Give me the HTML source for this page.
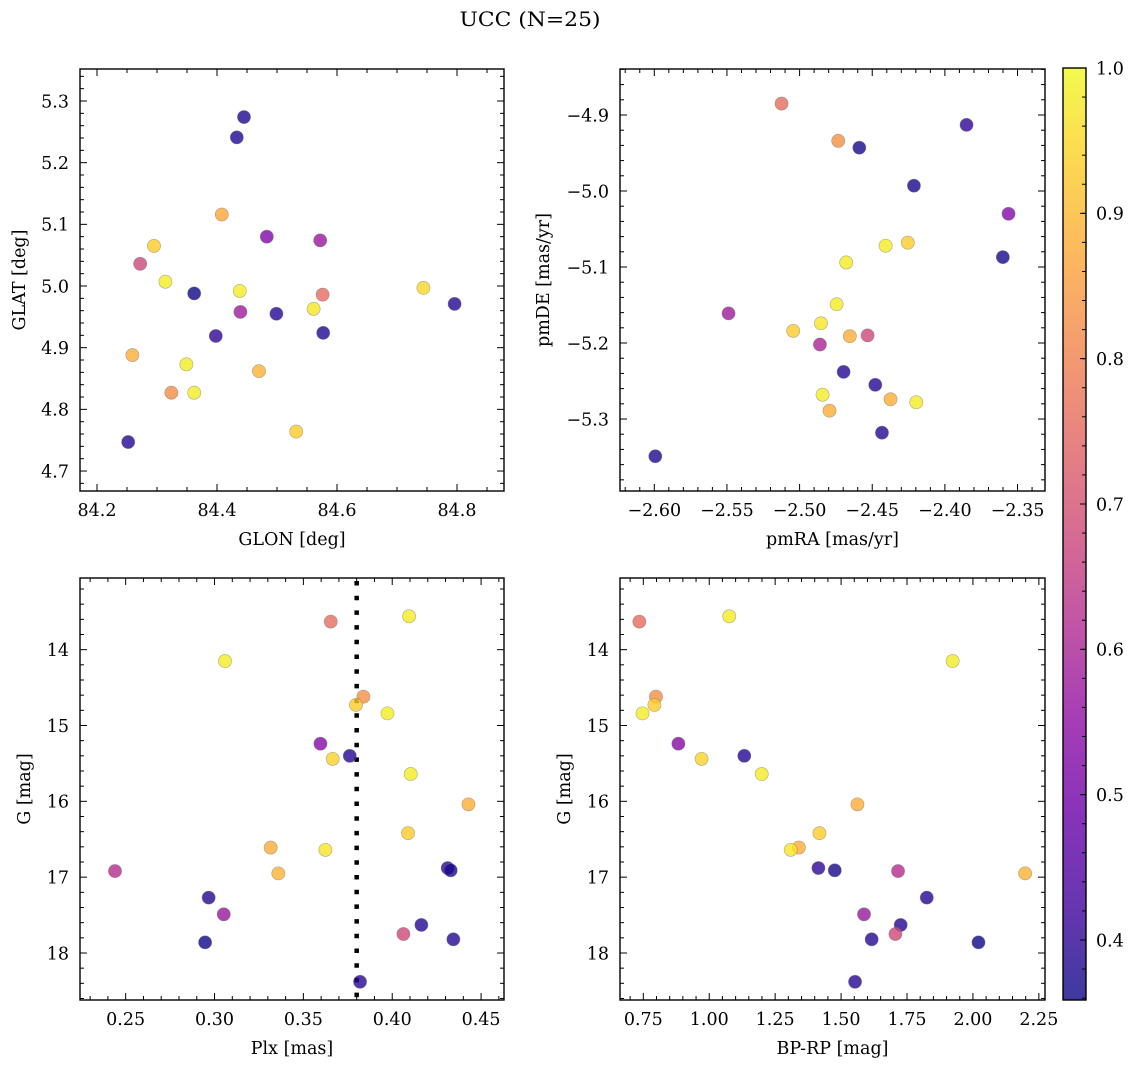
<!DOCTYPE html>
<html><head><meta charset="utf-8"><title>UCC (N=25)</title>
<style>
html,body{margin:0;padding:0;background:#fff;}
svg{display:block;font-family:"DejaVu Serif","Liberation Serif",serif;}
</style></head>
<body>
<svg id="fig" width="1136" height="1068" viewBox="0 0 1136 1068" xmlns="http://www.w3.org/2000/svg">
<defs>
<linearGradient id="plasmaGrad" x1="0" y1="1" x2="0" y2="0">
<stop offset="0" stop-color="#0d0887"/><stop offset="0.1" stop-color="#41049d"/><stop offset="0.2" stop-color="#6a00a8"/><stop offset="0.3" stop-color="#8f0da4"/><stop offset="0.4" stop-color="#b12a90"/><stop offset="0.5" stop-color="#cc4778"/><stop offset="0.6" stop-color="#e16462"/><stop offset="0.7" stop-color="#f2844b"/><stop offset="0.8" stop-color="#fca636"/><stop offset="0.9" stop-color="#fcce25"/><stop offset="1" stop-color="#f0f921"/>
</linearGradient>
</defs>
<text x="530" y="26" font-size="20" text-anchor="middle" textLength="141" lengthAdjust="spacingAndGlyphs">UCC (N=25)</text>
</svg>
<script>
// ---- data ----
const p1Lon  = [84.445,84.433,84.408,84.483,84.572,84.295,84.272,84.314,84.362,84.438,84.576,84.744,84.796,84.561,84.439,84.499,84.577,84.398,84.259,84.349,84.470,84.324,84.362,84.532,84.252];
const p1Lat  = [5.274,5.241,5.116,5.080,5.074,5.065,5.036,5.007,4.988,4.992,4.986,4.997,4.971,4.963,4.958,4.955,4.924,4.919,4.888,4.873,4.862,4.827,4.827,4.764,4.747];
const p1Prob = [0.38,0.38,0.87,0.52,0.57,0.93,0.68,0.98,0.36,0.98,0.76,0.95,0.39,0.97,0.58,0.39,0.38,0.40,0.88,0.98,0.89,0.82,0.98,0.93,0.39];

const p2PmRA = [-2.5124,-2.4734,-2.4589,-2.3851,-2.4213,-2.3562,-2.4255,-2.4408,-2.4679,-2.3601,-2.4745,-2.5489,-2.4853,-2.5044,-2.4654,-2.4532,-2.4860,-2.4697,-2.4479,-2.4842,-2.4374,-2.4197,-2.4794,-2.4433,-2.5993];
const p2PmDE = [-4.885,-4.934,-4.943,-4.913,-4.993,-5.030,-5.068,-5.072,-5.094,-5.087,-5.149,-5.161,-5.174,-5.184,-5.191,-5.190,-5.202,-5.238,-5.255,-5.268,-5.274,-5.278,-5.289,-5.318,-5.349];
const p2Prob = [0.76,0.83,0.37,0.40,0.37,0.53,0.93,0.98,0.98,0.37,0.98,0.58,0.97,0.93,0.88,0.68,0.60,0.39,0.39,0.98,0.88,0.98,0.88,0.39,0.38];

const starPlx  = [0.3654,0.4095,0.3059,0.3838,0.3796,0.3973,0.3596,0.3761,0.3665,0.4104,0.4429,0.4089,0.3316,0.3624,0.3359,0.2440,0.2967,0.4312,0.4329,0.3052,0.4164,0.4063,0.4344,0.2947,0.3819];
const starBprp = [0.735,1.076,1.923,0.798,0.792,0.747,0.883,1.133,0.971,1.199,1.562,1.418,1.340,1.309,2.198,1.716,1.825,1.414,1.476,1.587,1.726,1.706,1.616,2.021,1.553];
const starG    = [13.63,13.56,14.15,14.62,14.73,14.84,15.24,15.40,15.44,15.64,16.04,16.42,16.61,16.64,16.95,16.92,17.27,16.88,16.91,17.49,17.63,17.75,17.82,17.86,18.38];
const starProb = [0.76,0.98,0.98,0.83,0.93,0.98,0.53,0.39,0.94,0.98,0.88,0.93,0.88,0.97,0.89,0.62,0.39,0.40,0.37,0.57,0.39,0.68,0.39,0.36,0.39];

const plxMedian = 0.380;

const p1XTicks = [84.2,84.4,84.6,84.8];
const p1YTicks = [4.7,4.8,4.9,5.0,5.1,5.2,5.3];
const p2XTicks = [-2.60,-2.55,-2.50,-2.45,-2.40,-2.35];
const p2YTicks = [-5.3,-5.2,-5.1,-5.0,-4.9];
const p3XTicks = [0.25,0.30,0.35,0.40,0.45];
const p4XTicks = [0.75,1.00,1.25,1.50,1.75,2.00,2.25];
const gTicks   = [14,15,16,17,18];
const cbTicks  = [0.4,0.5,0.6,0.7,0.8,0.9,1.0];

const cMin = 0.3587, cMax = 1.0;

// ---- helpers ----
const NS = "http://www.w3.org/2000/svg";
const svg = document.getElementById('fig');
function mk(tag, attrs, parent){ const e=document.createElementNS(NS,tag); for(const k in attrs) e.setAttribute(k,attrs[k]); (parent||svg).appendChild(e); return e; }
const stops = [[13,8,135],[65,4,157],[106,0,168],[143,13,164],[177,42,144],[204,71,120],[225,100,98],[242,132,75],[252,166,54],[252,206,37],[240,249,33]];
function plasma(v){
  let t=(v-cMin)/(cMax-cMin); t=Math.max(0,Math.min(1,t));
  const f=t*10, i=Math.min(9,Math.floor(f)), r=f-i;
  const a=stops[i], b=stops[i+1];
  return 'rgb('+a.map((c,k)=>Math.round(c+(b[k]-c)*r)).join(',')+')';
}
function fmt(v,d){ const s=Math.abs(v).toFixed(d); return (v<0?'\u2212':'')+s; }

function panel(cfg){
  const {name,L,T,W,H,xmin,xmax,ymin,ymax,invY} = cfg;
  const sx = v => L + (v-xmin)/(xmax-xmin)*W;
  const sy = v => invY ? T + (v-ymin)/(ymax-ymin)*H : T + H - (v-ymin)/(ymax-ymin)*H;
  const g = mk('g',{});
  
  
  // ticks
  const tg = mk('g',{stroke:'#000','stroke-width':1},g);
  
  
  const lo=Math.min(xmin,xmax);
  for(let v=Math.ceil(xmin/cfg.xMinor-1e-6)*cfg.xMinor; v<=xmax+1e-9; v+=cfg.xMinor){
    const x=sx(v); const major=cfg.xTicks.some(t=>Math.abs(t-v)<cfg.xMinor/10); const len=major?7:4;
    mk('line',{x1:x,x2:x,y1:T+H,y2:T+H-len},tg); mk('line',{x1:x,x2:x,y1:T,y2:T+len},tg);
  }
  const y0=Math.min(ymin,ymax), y1=Math.max(ymin,ymax);
  for(let v=Math.ceil(y0/cfg.yMinor-1e-6)*cfg.yMinor; v<=y1+1e-9; v+=cfg.yMinor){
    const y=sy(v); const major=cfg.yTicks.some(t=>Math.abs(t-v)<cfg.yMinor/10); const len=major?7:4;
    mk('line',{x1:L,x2:L+len,y1:y,y2:y},tg); mk('line',{x1:L+W,x2:L+W-len,y1:y,y2:y},tg);
  }
  // tick labels
  cfg.xTicks.forEach(v=>{
    const t=mk('text',{x:sx(v),y:T+H+25,'font-size':17.5,'text-anchor':'middle'},g);
    
    
    t.textContent=fmt(v,cfg.xDec);
  });
  cfg.yTicks.forEach(v=>{
    const t=mk('text',{x:L-11,y:sy(v)+6.3,'font-size':17.5,'text-anchor':'end'},g);
    
    
    t.textContent=fmt(v,cfg.yDec);
  });
  const xl=mk('text',{x:L+W/2,y:T+H+54,'font-size':17.5,'text-anchor':'middle'},g);
  
  
  xl.textContent=cfg.xLabel;
  const yl=mk('text',{x:0,y:0,'font-size':17.5,'text-anchor':'middle',transform:'translate('+(cfg.yLabX+6)+','+(T+H/2)+') rotate(-90)'},g);
  
  
  yl.textContent=cfg.yLabel;
  if(cfg.vline!==undefined){
    const ln=mk('line',{x1:sx(cfg.vline),x2:sx(cfg.vline),y1:T+3,y2:T+H,stroke:'#000','stroke-width':4.5,'stroke-dasharray':'4.5 10.2'},g);
    
    
  }
  // points
  cfg.xs.forEach((xv,i)=>{
    const c=mk('circle',{cx:sx(xv),cy:sy(cfg.ys[i]),r:6.6,fill:plasma(cfg.cs[i]),'fill-opacity':0.8,stroke:'#777','stroke-opacity':0.6,'stroke-width':0.6},g);
    
    
  });
  const box=mk('rect',{x:L,y:T,width:W,height:H,fill:'none',stroke:'#000','stroke-width':1.4},g);
  
  
}

panel({name:'glon-glat-panel',L:80,T:69,W:424,H:422,xmin:84.1717,xmax:84.8783,ymin:4.6676,ymax:5.3519,invY:false,
  xTicks:p1XTicks,yTicks:p1YTicks,xMinor:0.05,yMinor:0.02,xDec:1,yDec:1,xLabel:'GLON [deg]',yLabel:'GLAT [deg]',yLabX:19,
  xs:p1Lon,ys:p1Lat,cs:p1Prob});
panel({name:'pm-panel',L:620,T:69,W:425,H:422,xmin:-2.6236,xmax:-2.3311,ymin:-5.3947,ymax:-4.8395,invY:false,
  xTicks:p2XTicks,yTicks:p2YTicks,xMinor:0.01,yMinor:0.02,xDec:2,yDec:1,xLabel:'pmRA [mas/yr]',yLabel:'pmDE [mas/yr]',yLabX:543,
  xs:p2PmRA,ys:p2PmDE,cs:p2Prob});
panel({name:'plx-g-panel',L:80,T:578,W:424,H:422,xmin:0.2243,xmax:0.4629,ymin:13.055,ymax:18.62,invY:true,
  xTicks:p3XTicks,yTicks:gTicks,xMinor:0.01,yMinor:0.2,xDec:2,yDec:0,xLabel:'Plx [mas]',yLabel:'G [mag]',yLabX:24,
  xs:starPlx,ys:starG,cs:starProb,vline:plxMedian});
panel({name:'cmd-panel',L:620,T:578,W:425,H:422,xmin:0.6616,xmax:2.2733,ymin:13.055,ymax:18.62,invY:true,
  xTicks:p4XTicks,yTicks:gTicks,xMinor:0.05,yMinor:0.2,xDec:2,yDec:0,xLabel:'BP-RP [mag]',yLabel:'G [mag]',yLabX:564,
  xs:starBprp,ys:starG,cs:starProb});

// colorbar
(function(){
  const L=1063,T=68,W=23,H=932;
  const sy=v=>T+H-(v-cMin)/(cMax-cMin)*H;
  const g=mk('g',{});
  
  
  const r=mk('rect',{x:L,y:T,width:W,height:H,fill:'url(#plasmaGrad)','fill-opacity':0.8},g);
  
  
  for(let v=0.36; v<=1.0001; v+=0.02){
    const y=sy(v); mk('line',{x1:L+W,x2:L+W-4,y1:y,y2:y,stroke:'#000','stroke-width':1},g);
  }
  cbTicks.forEach(v=>{
    const y=sy(v);
    mk('line',{x1:L+W,x2:L+W-6,y1:y,y2:y,stroke:'#000','stroke-width':1},g);
    const t=mk('text',{x:1096,y:y+6.3,'font-size':17.5},g);
    
    
    t.textContent=v.toFixed(1);
  });
  const f=mk('rect',{x:L,y:T,width:W,height:H,fill:'none',stroke:'#000','stroke-width':1.4},g);
  
  
})();
</script>
</body></html>
